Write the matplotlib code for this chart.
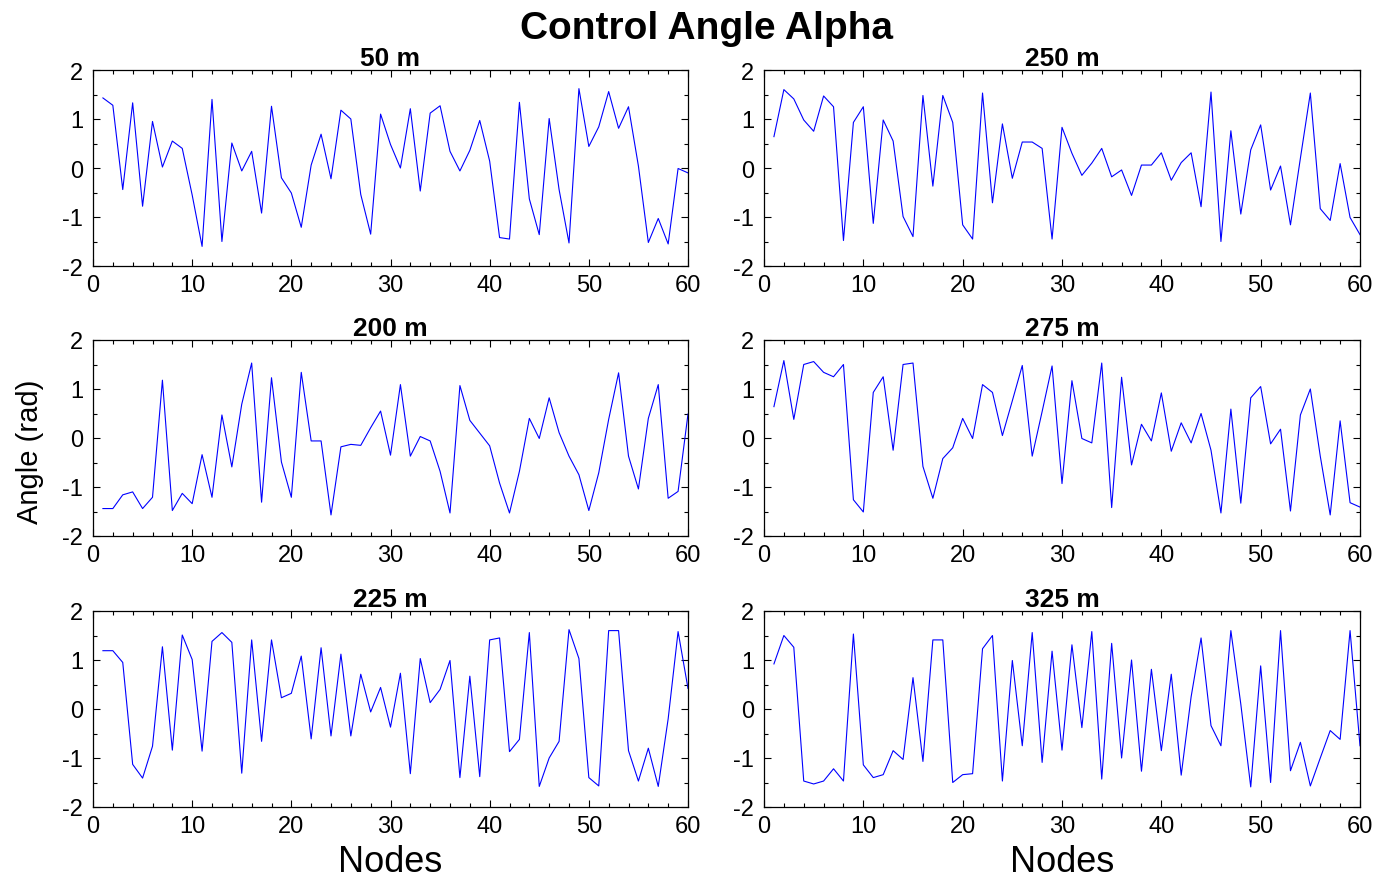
import matplotlib
matplotlib.use("Agg")
import matplotlib.pyplot as plt
import numpy as np
from matplotlib.ticker import MultipleLocator

plt.rcParams['font.family'] = ['Liberation Sans', 'DejaVu Sans']
plt.rcParams['axes.unicode_minus'] = False

nodes = list(range(1, 61))

alpha_50 = [1.43, 1.28, -0.44, 1.33, -0.78, 0.95, 0.02, 0.55, 0.40, -0.55,
            -1.60, 1.40, -1.50, 0.51, -0.06, 0.34, -0.92, 1.26, -0.20, -0.51,
            -1.21, 0.06, 0.69, -0.22, 1.18, 1.00, -0.54, -1.35, 1.10, 0.48,
            0.00, 1.21, -0.47, 1.12, 1.27, 0.34, -0.06, 0.36, 0.97, 0.14,
            -1.42, -1.45, 1.34, -0.63, -1.36, 1.01, -0.44, -1.53, 1.62, 0.44,
            0.84, 1.56, 0.81, 1.25, 0.04, -1.52, -1.03, -1.55, -0.01, -0.10]

alpha_250 = [0.64, 1.60, 1.41, 0.98, 0.75, 1.47, 1.25, -1.48, 0.93, 1.25,
             -1.13, 0.98, 0.55, -0.99, -1.40, 1.48, -0.37, 1.48, 0.93, -1.16,
             -1.45, 1.53, -0.71, 0.90, -0.21, 0.53, 0.53, 0.40, -1.45, 0.83,
             0.30, -0.15, 0.10, 0.40, -0.18, -0.04, -0.56, 0.06, 0.06, 0.31,
             -0.25, 0.11, 0.31, -0.79, 1.55, -1.50, 0.76, -0.94, 0.37, 0.88,
             -0.45, 0.04, -1.16, 0.20, 1.53, -0.83, -1.07, 0.09, -1.01, -1.36]

alpha_200 = [-1.44, -1.44, -1.16, -1.10, -1.44, -1.21, 1.18, -1.48, -1.13, -1.34,
             -0.34, -1.21, 0.47, -0.59, 0.69, 1.53, -1.31, 1.23, -0.49, -1.21,
             1.34, -0.06, -0.06, -1.57, -0.18, -0.13, -0.15, 0.21, 0.55, -0.35,
             1.09, -0.37, 0.03, -0.06, -0.68, -1.53, 1.07, 0.36, 0.10, -0.16,
             -0.92, -1.53, -0.68, 0.40, -0.01, 0.82, 0.11, -0.37, -0.75, -1.48,
             -0.71, 0.38, 1.33, -0.37, -1.04, 0.40, 1.09, -1.23, -1.09, 0.49]

alpha_275 = [0.64, 1.58, 0.38, 1.50, 1.56, 1.34, 1.25, 1.50, -1.26, -1.51,
             0.93, 1.25, -0.25, 1.50, 1.53, -0.58, -1.23, -0.42, -0.20, 0.40,
             -0.01, 1.09, 0.93, 0.05, 0.76, 1.48, -0.37, 0.54, 1.47, -0.93,
             1.17, -0.01, -0.10, 1.53, -1.42, 1.24, -0.55, 0.28, -0.06, 0.92,
             -0.27, 0.31, -0.10, 0.50, -0.25, -1.53, 0.59, -1.33, 0.82, 1.05,
             -0.12, 0.18, -1.49, 0.47, 1.00, -0.37, -1.57, 0.35, -1.32, -1.41]

alpha_225 = [1.19, 1.19, 0.95, -1.13, -1.41, -0.76, 1.27, -0.84, 1.51, 1.01,
             -0.86, 1.38, 1.56, 1.36, -1.31, 1.41, -0.66, 1.41, 0.23, 0.32,
             1.08, -0.61, 1.25, -0.55, 1.12, -0.55, 0.71, -0.06, 0.44, -0.37,
             0.73, -1.32, 1.03, 0.13, 0.40, 0.99, -1.40, 0.67, -1.38, 1.41,
             1.45, -0.87, -0.62, 1.56, -1.58, -1.00, -0.66, 1.62, 1.03, -1.40,
             -1.57, 1.60, 1.60, -0.85, -1.47, -0.80, -1.58, -0.20, 1.58, 0.42]

alpha_325 = [0.92, 1.50, 1.26, -1.47, -1.53, -1.47, -1.22, -1.47, 1.53, -1.14,
             -1.40, -1.34, -0.85, -1.03, 0.64, -1.07, 1.41, 1.41, -1.50, -1.34,
             -1.32, 1.23, 1.50, -1.47, 0.99, -0.75, 1.56, -1.09, 1.18, -0.84,
             1.31, -0.38, 1.58, -1.43, 1.34, -1.00, 1.00, -1.27, 0.81, -0.85,
             0.71, -1.35, 0.25, 1.45, -0.34, -0.75, 1.60, 0.10, -1.59, 0.88,
             -1.50, 1.60, -1.26, -0.68, -1.57, -1.00, -0.44, -0.62, 1.60, -0.75]

panels = [("50 m", alpha_50), ("250 m", alpha_250),
          ("200 m", alpha_200), ("275 m", alpha_275),
          ("225 m", alpha_225), ("325 m", alpha_325)]

W, H = 1381, 879
fig = plt.figure(figsize=(W / 100, H / 100), dpi=100)

col_left = [93, 764]
col_width = [595, 596]
row_top = [71, 341, 612]
row_h = 196

for i, (title, vals) in enumerate(panels):
    r, c = divmod(i, 2)
    left = col_left[c] / W
    bottom = 1 - (row_top[r] + row_h) / H
    ax = fig.add_axes([left, bottom, col_width[c] / W, row_h / H])
    ax.plot(nodes, vals, color='#0000ff', linewidth=0.8)
    ax.set_xlim(0, 60)
    ax.set_ylim(-2, 2)
    ax.set_xticks(range(0, 61, 10))
    ax.set_yticks([-2, -1, 0, 1, 2])
    ax.xaxis.set_minor_locator(MultipleLocator(2))
    ax.yaxis.set_minor_locator(MultipleLocator(0.5))
    ax.tick_params(which='both', direction='in', top=True, right=True,
                   labelsize=17, width=0.8)
    ax.tick_params(which='major', length=5)
    ax.tick_params(axis='x', which='major', pad=6)
    ax.tick_params(axis='y', which='major', pad=7)
    ax.tick_params(which='minor', length=3)
    for s in ax.spines.values():
        s.set_linewidth(0.9)
    ax.set_title(title, fontsize=19, fontweight='bold', pad=3)
    if r == 2:
        ax.set_xlabel("Nodes", fontsize=26, labelpad=5)

fig.text(706 / W, 1 - 29 / H, "Control Angle Alpha", ha='center', va='center',
         fontsize=28, fontweight='bold')
fig.text(30 / W, 1 - 452 / H, "Angle (rad)", ha='center', va='center',
         rotation=90, fontsize=21)

fig.savefig("out.png", dpi=100)
